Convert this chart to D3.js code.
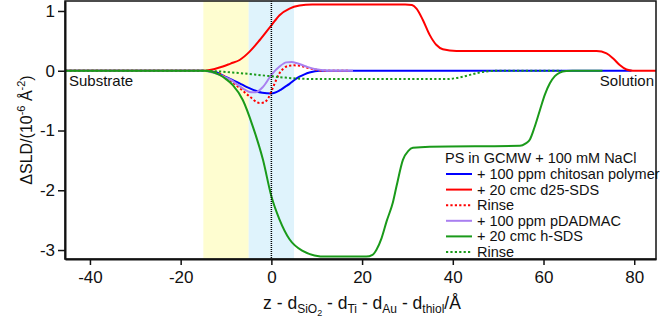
<!DOCTYPE html>
<html><head><meta charset="utf-8">
<script src="https://cdn.jsdelivr.net/npm/d3@7"></script>
<style>
body{margin:0;background:#fff;}
svg{font-family:"Liberation Sans",Arial,sans-serif;}
</style></head><body>
<svg id="chart" width="661" height="318"></svg>
<script>
// ---- data ----
const xTicks = [-40, -20, 0, 20, 40, 60, 80];
const yTicks = [1, 0, -1, -2, -3];
const regionSiO2 = [-15, -5];
const regionTi = [-5, 5];

const chitosan = [[-45.5,0],[-15,0],[-12,-0.03],[-10.7,-0.08],[-9,-0.14],[-7,-0.21],[-5.5,-0.27],[-4,-0.32],[-2,-0.37],[0,-0.38],[1.8,-0.33],[3,-0.27],[4,-0.22],[5,-0.16],[6.2,-0.1],[7.3,-0.06],[8.4,-0.03],[10.6,0],[79.4,0]];
const d25SDS = [[-45.5,0],[-15,0],[-12.5,0.03],[-10.7,0.07],[-9,0.12],[-7,0.18],[-4.8,0.32],[-2.6,0.51],[0,0.76],[1.8,0.93],[4,1.04],[6.2,1.09],[9,1.11],[15,1.11],[29.5,1.11],[31,1.1],[32,1.04],[33.4,0.85],[34.9,0.6],[36.4,0.43],[37.8,0.36],[40.8,0.33],[71.7,0.33],[73.9,0.29],[75.3,0.21],[76.8,0.095],[78.3,0.02],[79.7,0],[84.8,0]];
const rinse1 = [[-45.5,0],[-15,0],[-13,-0.02],[-11.4,-0.05],[-9.2,-0.16],[-7,-0.29],[-4.8,-0.43],[-2.6,-0.54],[-1.6,-0.53],[-0.7,-0.46],[0.4,-0.27],[1.8,-0.04],[2.7,0.04],[3.7,0.08],[5,0.09],[6.5,0.08],[8.4,0.04],[10,0.015],[11.4,0],[17,0]];
const pDADMAC = [[-45.5,0],[-15,0],[-12.5,-0.04],[-10.7,-0.09],[-9,-0.15],[-7.7,-0.22],[-6,-0.31],[-4.5,-0.36],[-3.5,-0.36],[-1.85,-0.27],[0,-0.07],[1.8,0.07],[3.3,0.14],[4.5,0.145],[5.5,0.13],[7.7,0.07],[9.5,0.03],[11.3,0.01],[13,0],[18,0]];
const hSDS = [[-45.5,0],[-15,0],[-13,-0.02],[-11.4,-0.07],[-10,-0.14],[-8.5,-0.24],[-6.3,-0.49],[-4.1,-0.93],[-1.85,-1.49],[0,-2.1],[1.8,-2.49],[4,-2.82],[7,-3.02],[9.5,-3.09],[12.1,-3.11],[20.9,-3.11],[22.3,-3.08],[23.2,-2.99],[24.3,-2.8],[25.4,-2.52],[26.8,-2.2],[27.6,-1.93],[29,-1.49],[30.2,-1.34],[31.2,-1.29],[34.9,-1.27],[54.8,-1.255],[56,-1.22],[57,-1.15],[58,-0.95],[59.2,-0.66],[60.3,-0.4],[61.4,-0.21],[62.5,-0.09],[63.6,-0.03],[65,-0.005],[66.4,0],[73,0]];
const rinse2 = [[-45.5,0],[-15,0],[-12,-0.01],[-8.5,-0.03],[-4,-0.06],[-0.4,-0.09],[3,-0.115],[5.5,-0.13],[10.6,-0.14],[38.6,-0.14],[40.5,-0.125],[42.2,-0.1],[44,-0.065],[45.9,-0.03],[48,-0.008],[49.6,0],[64,0]];

const seriesNames = ["+ 100 ppm chitosan polymer","+ 20 cmc d25-SDS","Rinse","+ 100 ppm pDADMAC","+ 20 cmc h-SDS","Rinse"];
const seriesData = [chitosan, d25SDS, rinse1, pDADMAC, hSDS, rinse2];
const seriesColors = ["#0000ff","#ff0000","#ff0000","#a97ff0","#1a9a1a","#1a9a1a"];
const seriesDashed = [false,false,true,false,false,true];
const legendTitle = "PS in GCMW + 100 mM NaCl";

// ---- layout ----
const svg = d3.select("#chart");
const L = 65, R = 656, T = 1, B = 259;
const x = d3.scaleLinear().domain([-45.5, 84.8]).range([L, R]);
const y = d3.scaleLinear().domain([-3.15, 1.167]).range([B, T]);
const FONT = '"Liberation Sans",Arial,sans-serif';

// shaded regions
svg.append("rect").attr("x", x(regionSiO2[0])).attr("y", T)
  .attr("width", x(regionSiO2[1]) - x(regionSiO2[0])).attr("height", B - T).attr("fill", "#fefdd0");
svg.append("rect").attr("x", x(regionTi[0])).attr("y", T)
  .attr("width", x(regionTi[1]) - x(regionTi[0])).attr("height", B - T).attr("fill", "#dff3fc");

const line = d3.line().x(d => x(d[0])).y(d => y(d[1])).curve(d3.curveMonotoneX);
svg.append("clipPath").attr("id","clip").append("rect")
  .attr("x", L).attr("y", T).attr("width", R - L).attr("height", B - T);
const g = svg.append("g").attr("clip-path","url(#clip)");
seriesData.forEach((d, i) => {
  g.append("path").attr("d", line(d)).attr("fill","none")
    .attr("stroke", seriesColors[i]).attr("stroke-width", 2)
    .attr("stroke-dasharray", seriesDashed[i] ? "2.2,2.2" : null);
});

// vertical dotted line at 0
svg.append("line").attr("x1", x(0)).attr("x2", x(0)).attr("y1", T).attr("y2", B)
  .attr("stroke", "#000").attr("stroke-width", 1.5).attr("stroke-dasharray", "1,1");

// frame
svg.append("rect").attr("x", L).attr("y", T).attr("width", R - L).attr("height", B - T)
  .attr("fill", "none").attr("stroke", "#111").attr("stroke-width", 1.5);

// axes
const fmt = d => String(d);
const xAxis = svg.append("g").attr("transform", `translate(0,${B})`)
  .call(d3.axisBottom(x).tickValues(xTicks).tickFormat(fmt).tickSize(6).tickPadding(6).tickSizeOuter(0));
const yAxis = svg.append("g").attr("transform", `translate(${L},0)`)
  .call(d3.axisLeft(y).tickValues(yTicks).tickFormat(fmt).tickSize(7).tickPadding(3).tickSizeOuter(0));
[xAxis, yAxis].forEach(a => {
  a.select(".domain").attr("stroke", "#111").attr("stroke-width", 2);
  a.selectAll(".tick line").attr("stroke", "#111").attr("stroke-width", 1.5);
  a.selectAll(".tick text").attr("fill", "#111").style("font-size", "17px").style("font-family", FONT);
});

// annotations
svg.append("text").attr("x", 69).attr("y", 86).style("font-size", "15px").attr("fill", "#111").text("Substrate");
svg.append("text").attr("x", 654).attr("y", 86).attr("text-anchor", "end").style("font-size", "15px").attr("fill", "#111").text("Solution");

// legend
svg.append("text").attr("x", 445).attr("y", 163).style("font-size", "14.5px").attr("fill", "#111").text(legendTitle);
seriesNames.forEach((n, i) => {
  const cy = 174 + i * 15.6;
  svg.append("line").attr("x1", 446).attr("x2", 472).attr("y1", cy).attr("y2", cy)
    .attr("stroke", seriesColors[i]).attr("stroke-width", 2)
    .attr("stroke-dasharray", seriesDashed[i] ? "2.2,2.2" : null);
  svg.append("text").attr("x", 477).attr("y", cy + 5).style("font-size", "14.5px").attr("fill", "#111").text(n);
});

// x axis label
const xl = svg.append("text").attr("x", 362).attr("y", 309).attr("text-anchor", "middle")
  .style("font-size", "17.5px").attr("fill", "#111");
const parts = [["z - d",0],["SiO",4],["2",7],[" - d",0],["Ti",4],[" - d",0],["Au",4],[" - d",0],["thiol",4],["/Å",0]];
let cur = 0;
parts.forEach(p => {
  const t = xl.append("tspan").text(p[0]).attr("dy", p[1] - cur);
  if (p[1] === 4) t.style("font-size", "12px");
  else if (p[1] === 7) t.style("font-size", "9px");
  cur = p[1];
});

// y axis label
const yl = svg.append("text").attr("transform", "translate(32,130) rotate(-90)")
  .attr("text-anchor", "middle").style("font-size", "16px").attr("fill", "#111");
yl.append("tspan").text("ΔSLD/(10");
yl.append("tspan").text("-6").style("font-size", "11px").attr("dy", -7);
yl.append("tspan").text(" Å").attr("dy", 7);
yl.append("tspan").text("-2").style("font-size", "11px").attr("dy", -7);
yl.append("tspan").text(")").attr("dy", 7);
</script>
</body></html>
